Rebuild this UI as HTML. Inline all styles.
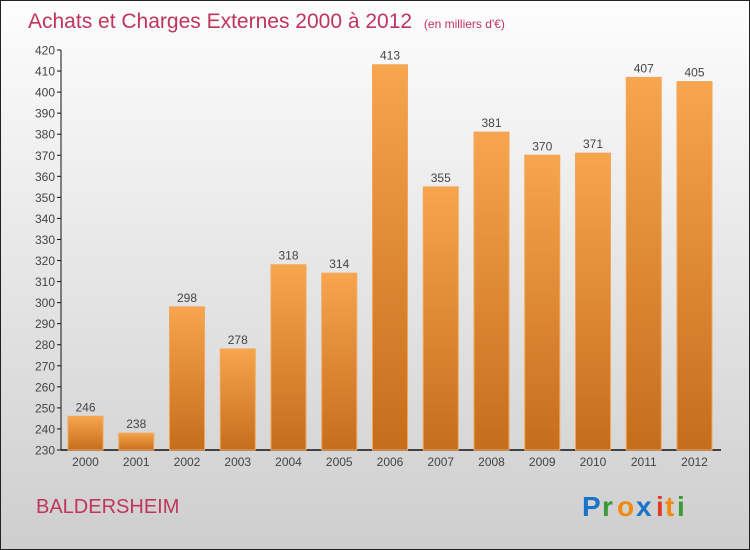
<!DOCTYPE html>
<html><head><meta charset="utf-8"><style>
body{margin:0;}
svg{display:block;font-family:"Liberation Sans",sans-serif;}
</style></head><body>
<svg width="750" height="550" viewBox="0 0 750 550">
<defs>
<linearGradient id="bg" x1="0" y1="0" x2="0" y2="1"><stop offset="0" stop-color="#fdfdfd"/><stop offset="1" stop-color="#cecece"/></linearGradient>
<linearGradient id="bar" x1="0" y1="0" x2="0" y2="1"><stop offset="0" stop-color="#f7a54e"/><stop offset="1" stop-color="#c66d1c"/></linearGradient>
</defs>
<rect x="0.5" y="0.5" width="749" height="549" fill="url(#bg)" stroke="#222"/>
<text x="28" y="28" font-size="21" fill="#c0345e">Achats et Charges Externes 2000 à 2012 <tspan font-size="12" dx="6">(en milliers d'€)</tspan></text>
<g id="axes"></g>
<g id="bars"></g>
<text x="36" y="513" font-size="20" fill="#c0345e">BALDERSHEIM</text>
<g font-size="28" font-weight="bold">
<text x="582" y="516" fill="#1a73c8">P</text><text x="602" y="516" fill="#3a9a35">r</text><text x="617" y="516" fill="#f08a10">o</text><text x="636" y="516" fill="#1a73c8">x</text><text x="656" y="516" fill="#e03a2a">i</text><text x="665" y="516" fill="#f08a10">t</text><text x="677" y="516" fill="#3a9a35">i</text>
</g>
</svg>
<script>
const years=["2000","2001","2002","2003","2004","2005","2006","2007","2008","2009","2010","2011","2012"];
const values=[246,238,298,278,318,314,413,355,381,370,371,407,405];
const ticks=[230,240,250,260,270,280,290,300,310,320,330,340,350,360,370,380,390,400,410,420];
const NS="http://www.w3.org/2000/svg";
const y0=450,y1=50,vmin=230,vmax=420;
function yS(v){return y0-(v-vmin)/(vmax-vmin)*(y0-y1);}
function xS(i){return 68+i*50.75;}
const bw=35;
function mk(t,a,p){const e=document.createElementNS(NS,t);for(const k in a)e.setAttribute(k,a[k]);p.appendChild(e);return e;}
const ax=document.getElementById('axes'),bs=document.getElementById('bars');
const yl=mk('line',{x1:61,y1:y1,x2:61,y2:y0,stroke:'#111'},ax);


const xl=mk('line',{x1:61,y1:y0,x2:721,y2:y0,stroke:'#111','stroke-width':1.5},ax);


ticks.forEach(t=>{
 const y=yS(t);
 mk('line',{x1:57,y1:y,x2:61,y2:y,stroke:'#111'},ax);
 const tx=mk('text',{x:55,y:y+4.5,'text-anchor':'end','font-size':12,fill:'#444'},ax);
 tx.textContent=t;
 
 
});
values.forEach((v,i)=>{
 const x=xS(i),y=yS(v);
 const r=mk('rect',{x:x,y:y,width:bw,height:y0-y,fill:'url(#bar)',stroke:'#f3a65a','stroke-width':1},bs);
 
 
 const l=mk('text',{x:x+bw/2,y:y-5,'text-anchor':'middle','font-size':12,fill:'#444'},bs);
 l.textContent=v;
 
 
 const xt=mk('text',{x:x+bw/2,y:466,'text-anchor':'middle','font-size':12,fill:'#444'},bs);
 xt.textContent=years[i];
 
 
});
</script>
</body></html>
